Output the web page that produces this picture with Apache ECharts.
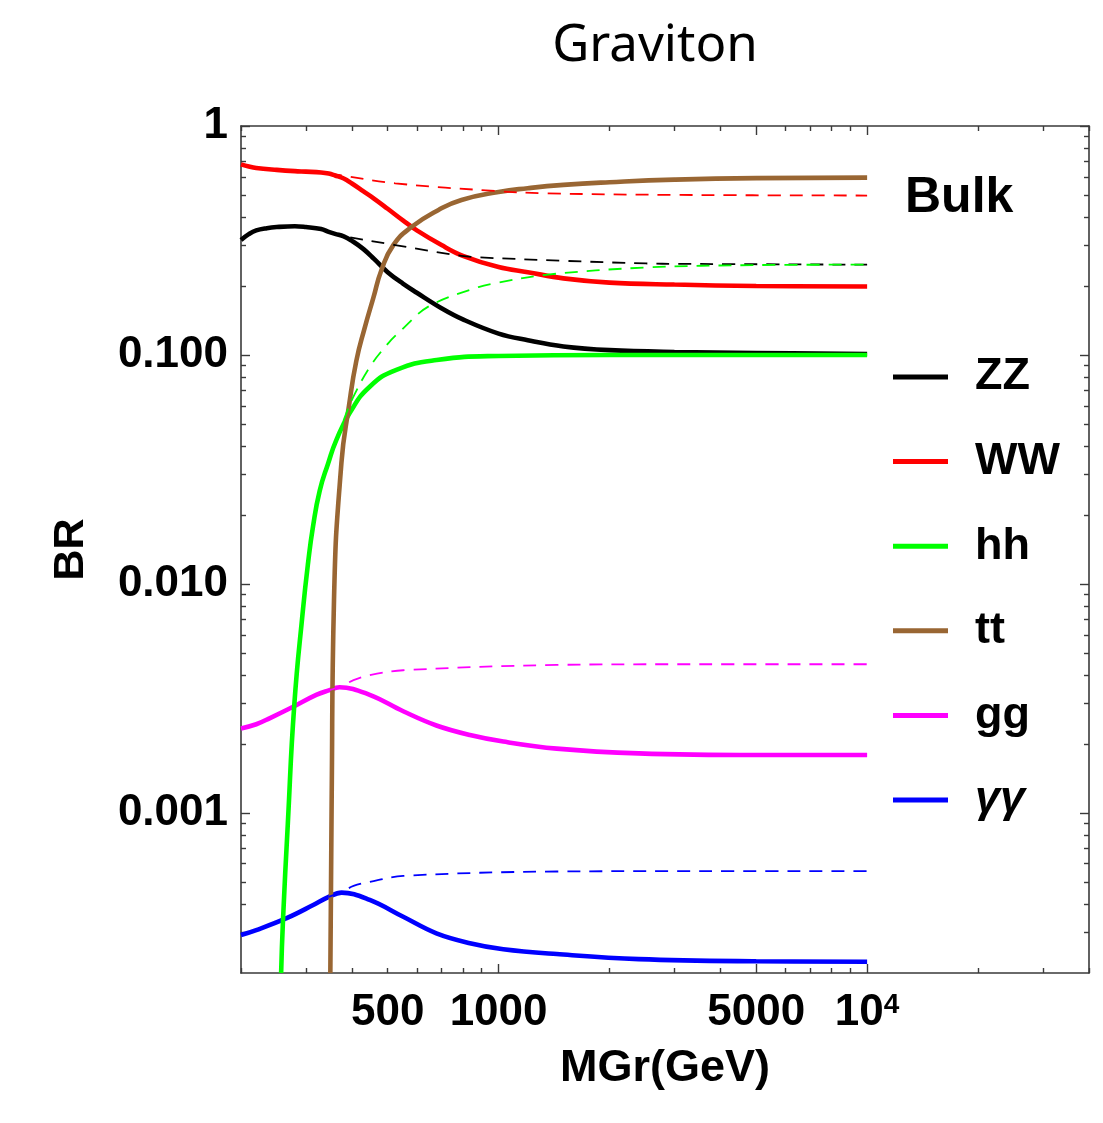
<!DOCTYPE html>
<html><head><meta charset="utf-8">
<script src="https://cdn.jsdelivr.net/npm/echarts@6/dist/echarts.min.js"></script>
<style>html,body{margin:0;padding:0;background:#fff}#c{width:1103px;height:1123px}</style>
</head><body><div id="c"></div>
<script>
// ---- tick / label values ----
const xTickLabels = [500, 1000, 5000, 10000];
const xMajorTicks = [1000, 5000, 10000];
const xMinorTicks = [200, 300, 400, 500, 600, 700, 800, 900, 2000, 3000, 4000, 6000, 7000, 8000, 9000, 20000, 30000, 40000];
const yTickLabels = [0.001, 0.01, 0.1, 1];
const yMajorTicks = [0.001, 0.01, 0.1, 1];
const yMinorTicks = [0.0003, 0.0004, 0.0005, 0.0006, 0.0007, 0.0008, 0.0009,
  0.002, 0.003, 0.004, 0.005, 0.006, 0.007, 0.008, 0.009,
  0.02, 0.03, 0.04, 0.05, 0.06, 0.07, 0.08, 0.09,
  0.2, 0.3, 0.4, 0.5, 0.6, 0.7, 0.8, 0.9];
const legendNames = ['ZZ', 'WW', 'hh', 'tt', 'gg', 'γγ'];

// ---- solid curves (Bulk graviton BR) ----
const zzMass = [200, 210, 220, 235, 250, 280, 300, 330, 346, 360, 380, 400, 430, 460, 500, 550, 600, 700, 800, 1000, 1200, 1500, 2000, 3000, 5000, 10000];
const zzBR   = [0.318, 0.337, 0.350, 0.358, 0.362, 0.365, 0.362, 0.355, 0.345, 0.338, 0.33, 0.315, 0.29, 0.262, 0.23, 0.205, 0.187, 0.16, 0.143, 0.124, 0.116, 0.109, 0.105, 0.103, 0.102, 0.101];
const wwMass = [200, 210, 220, 250, 280, 300, 330, 346, 360, 380, 400, 430, 460, 500, 550, 600, 700, 800, 1000, 1200, 1500, 2000, 3000, 5000, 10000];
const wwBR   = [0.68, 0.665, 0.655, 0.643, 0.635, 0.632, 0.627, 0.62, 0.608, 0.59, 0.561, 0.518, 0.481, 0.435, 0.387, 0.35, 0.302, 0.271, 0.242, 0.23, 0.216, 0.207, 0.203, 0.200, 0.199];
const hhMass = [257, 260, 268, 279, 294.5, 304, 313.6, 327, 344.5, 363, 394, 447, 528, 679, 1000, 2000, 5000, 10000];
const hhBR   = [0.0002, 0.00034, 0.0009, 0.00296, 0.0077, 0.0123, 0.0178, 0.0255, 0.0335, 0.0426, 0.0556, 0.0727, 0.086, 0.095, 0.099, 0.1, 0.1, 0.1];
const ttMass = [349.5, 352.4, 357.6, 374.5, 393, 411, 433, 457, 481, 518, 580, 687, 793, 1000, 1200, 1500, 2000, 3000, 5000, 10000];
const ttBR   = [0.0002, 0.00114, 0.0085, 0.0337, 0.0605, 0.094, 0.131, 0.177, 0.235, 0.302, 0.362, 0.43, 0.475, 0.515, 0.535, 0.553, 0.568, 0.583, 0.592, 0.595];
const ggMass = [200, 220, 239, 277, 320, 346, 370, 447, 551, 678, 836, 1030, 1438, 2400, 5000, 10000];
const ggBR   = [0.00234, 0.00244, 0.00259, 0.00291, 0.00328, 0.00343, 0.00354, 0.00328, 0.00278, 0.00241, 0.00219, 0.00205, 0.00191, 0.00182, 0.00179, 0.00179];
const aaMass = [200, 220, 266, 314, 346, 375, 447, 551, 678, 836, 1030, 1438, 2400, 5000, 10000];
const aaBR   = [0.000293, 0.000308, 0.000347, 0.000396, 0.00043, 0.000449, 0.000417, 0.000352, 0.000298, 0.00027, 0.000254, 0.000242, 0.00023, 0.000225, 0.000224];

// ---- dashed curves (without tt channel) ----
const zzDashMass = [346, 368, 524, 793, 882, 1483, 2508, 3085, 10000];
const zzDashBR   = [0.345, 0.334, 0.302, 0.271, 0.267, 0.258, 0.251, 0.25, 0.248];
const wwDashMass = [346, 368, 524, 981, 1342, 3085, 10000];
const wwDashBR   = [0.62, 0.611, 0.562, 0.52, 0.508, 0.50, 0.497];
const hhDashMass = [346, 380, 406, 450, 503, 538, 646, 882, 981, 1342, 2508, 5000, 10000];
const hhDashBR   = [0.034, 0.052, 0.067, 0.09, 0.113, 0.126, 0.163, 0.198, 0.206, 0.224, 0.241, 0.247, 0.248];
const ggDashMass = [346, 378, 404, 447, 551, 1438, 3000, 10000];
const ggDashBR   = [0.00343, 0.0036, 0.0038, 0.0040, 0.0042, 0.00443, 0.00446, 0.00446];
const aaDashMass = [346, 378, 404, 447, 551, 1438, 3000, 10000];
const aaDashBR   = [0.00043, 0.000455, 0.00048, 0.0005, 0.000531, 0.000555, 0.000557, 0.000557];

const FONT = 'Liberation Sans';
const AXC = '#3a3a3a';
function zip(a, b) { return a.map((v, i) => [v, b[i]]); }

function xAxisDef(position, ticks, len, main) {
  return {
    type: 'log', logBase: 10, min: 200, max: 40000, position: position,
    axisLine: { show: main, onZero: false, lineStyle: { color: AXC, width: 1.6 } },
    axisTick: { show: true, inside: true, length: len, customValues: ticks, lineStyle: { color: AXC, width: 1.4 } },
    axisLabel: main && position === 'bottom' ? {
      show: true, customValues: xTickLabels, margin: 18,
      formatter: v => v >= 9999 ? '{b|10}{s|4}' : '{b|' + Math.round(v) + '}',
      rich: {
        b: { fontSize: 44, fontWeight: 'bold', fontFamily: FONT, color: '#000' },
        s: { fontSize: 28, fontWeight: 'bold', fontFamily: FONT, color: '#000', verticalAlign: 'top' }
      }
    } : { show: false },
    splitLine: { show: false },
    name: main && position === 'bottom' ? 'MGr(GeV)' : '',
    nameLocation: 'middle', nameGap: 73,
    nameTextStyle: { fontSize: 45, fontWeight: 'bold', fontFamily: FONT, color: '#000' }
  };
}
function yAxisDef(position, ticks, len, main) {
  return {
    type: 'log', logBase: 10, min: 0.0002, max: 1, position: position,
    axisLine: { show: main, onZero: false, lineStyle: { color: AXC, width: 1.6 } },
    axisTick: { show: true, inside: true, length: len, customValues: ticks, lineStyle: { color: AXC, width: 1.4 } },
    axisLabel: main && position === 'left' ? {
      show: true, customValues: yTickLabels, margin: 13,
      formatter: v => v >= 0.999 ? '1' : v.toFixed(3),
      fontSize: 44, fontWeight: 'bold', fontFamily: FONT, color: '#000'
    } : { show: false },
    splitLine: { show: false },
    name: main && position === 'left' ? 'BR' : '',
    nameLocation: 'middle', nameGap: 148, nameRotate: 90,
    nameTextStyle: { fontSize: 43, fontWeight: 'bold', fontFamily: FONT, color: '#000' }
  };
}

function solid(name, mass, br, color, z, sm) {
  return { name: name, type: 'line', xAxisIndex: 0, yAxisIndex: 0, data: zip(mass, br),
    showSymbol: false, symbol: 'none', smooth: sm, color: color,
    lineStyle: { color: color, width: 4.6 }, z: z, silent: true };
}
function dashed(name, mass, br, color) {
  return { name: name, type: 'line', xAxisIndex: 0, yAxisIndex: 0, data: zip(mass, br),
    showSymbol: false, symbol: 'none', smooth: 0.35, color: color,
    lineStyle: { color: color, width: 1.8, type: [13, 9] }, z: 10, silent: true };
}

const chart = echarts.init(document.getElementById('c'), null, { renderer: 'canvas' });
chart.setOption({
  backgroundColor: '#ffffff',
  animation: false,
  title: {
    text: 'Graviton', left: 650, top: 16, textAlign: 'center',
    textStyle: { fontSize: 51, fontWeight: 'normal', fontFamily: 'Noto Sans', color: '#000' }
  },
  grid: { left: 241, right: 14, top: 126, bottom: 150, containLabel: false },
  xAxis: [
    xAxisDef('bottom', xMajorTicks, 9, true),
    xAxisDef('bottom', xMinorTicks, 5, false),
    xAxisDef('top', xMajorTicks, 9, true),
    xAxisDef('top', xMinorTicks, 5, false)
  ],
  yAxis: [
    yAxisDef('left', yMajorTicks, 9, true),
    yAxisDef('left', yMinorTicks, 5, false),
    yAxisDef('right', yMajorTicks, 9, true),
    yAxisDef('right', yMinorTicks, 5, false)
  ],
  legend: {
    orient: 'vertical', left: 893, top: 352, padding: 0, itemWidth: 55, itemHeight: 5, itemGap: 34.6,
    icon: 'rect', selectedMode: false,
    formatter: n => n === 'γγ' ? '{i|γγ}' : '{n|' + n + '}',
    textStyle: {
      fontSize: 45, fontWeight: 'bold', fontFamily: FONT, color: '#000', lineHeight: 50, padding: [0, 0, 0, 22],
      rich: {
        n: { fontSize: 45, fontWeight: 'bold', fontStyle: 'normal', fontFamily: FONT, color: '#000', lineHeight: 50 },
        i: { fontSize: 45, fontWeight: 'bold', fontStyle: 'italic', fontFamily: FONT, color: '#000', lineHeight: 50 }
      }
    },
    data: legendNames
  },
  graphic: [{
    type: 'text', left: 905, top: 173,
    style: { text: 'Bulk', fontSize: 50, fontWeight: 'bold', fontFamily: FONT, fill: '#000' }
  }],
  series: [
    solid('gg', ggMass, ggBR, '#ff00ff', 2, 0.4),
    solid('γγ', aaMass, aaBR, '#0000ff', 2, 0.4),
    solid('ZZ', zzMass, zzBR, '#000000', 3, 0.4),
    solid('WW', wwMass, wwBR, '#ff0000', 3, 0.4),
    solid('hh', hhMass, hhBR, '#00ff00', 4, 0.5),
    solid('tt', ttMass, ttBR, '#996633', 5, 0.5),
    dashed('ZZ (no tt)', zzDashMass, zzDashBR, '#000000'),
    dashed('WW (no tt)', wwDashMass, wwDashBR, '#ff0000'),
    dashed('hh (no tt)', hhDashMass, hhDashBR, '#00ff00'),
    dashed('gg (no tt)', ggDashMass, ggDashBR, '#ff00ff'),
    dashed('γγ (no tt)', aaDashMass, aaDashBR, '#0000ff')
  ]
});
</script></body></html>
